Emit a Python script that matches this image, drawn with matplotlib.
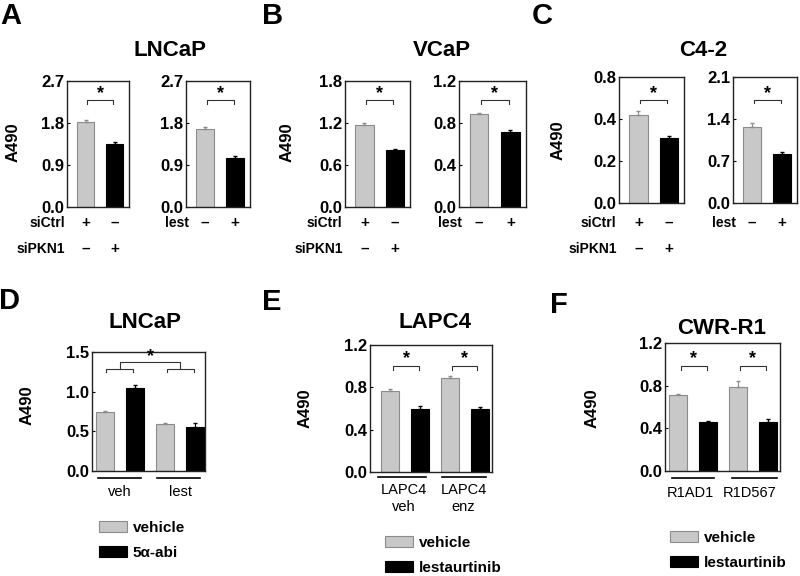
import numpy as np
import matplotlib
matplotlib.use('Agg')
import matplotlib.pyplot as plt

plt.rcParams['font.family'] = ['Liberation Sans', 'DejaVu Sans']

W, H = 800, 576
LIGHT = '#c8c8c8'
LIGHT_EDGE = '#8c8c8c'

# ---- data (A490 values) ----
a1_vals, a1_err = [1.82, 1.35], [0.04, 0.04]
a2_vals, a2_err = [1.68, 1.06], [0.03, 0.03]
b1_vals, b1_err = [1.17, 0.81], [0.03, 0.02]
b2_vals, b2_err = [0.885, 0.71], [0.01, 0.02]
c1_vals, c1_err = [0.42, 0.31], [0.02, 0.01]
c2_vals, c2_err = [1.27, 0.81], [0.06, 0.04]
d_vals, d_err = [0.74, 1.05, 0.59, 0.56], [0.02, 0.04, 0.01, 0.04]
e_vals, e_err = [0.765, 0.60, 0.885, 0.60], [0.02, 0.02, 0.02, 0.01]
f_vals, f_err = [0.71, 0.46, 0.79, 0.455], [0.01, 0.01, 0.05, 0.03]

ticks_a = [0.0, 0.9, 1.8, 2.7]
ticks_b1 = [0.0, 0.6, 1.2, 1.8]
ticks_b2 = [0.0, 0.4, 0.8, 1.2]
ticks_c1 = [0.0, 0.2, 0.4, 0.6]
ticklabels_c1 = ['0.0', '0.2', '0.4', '0.8']
ticks_c2 = [0.0, 0.7, 1.4, 2.1]
ticks_d = [0.0, 0.5, 1.0, 1.5]
ticks_ef = [0.0, 0.4, 0.8, 1.2]

sign_si = [['+', '–'], ['–', '+']]
sign_lest = ['–', '+']
d_groups = ['veh', 'lest']
e_groups = ['LAPC4\nveh', 'LAPC4\nenz']
f_groups = ['R1AD1', 'R1D567']

fig = plt.figure(figsize=(W / 100, H / 100), dpi=100)


def px_axes(l, t, r, b):
    return fig.add_axes([l / W, 1 - b / H, (r - l) / W, (b - t) / H])


def ftext(x, y, s, **kw):
    fig.text(x / W, 1 - y / H, s, **kw)


def style(ax, ticks, labels=None, xlim=(-0.64, 1.5)):
    ax.set_ylim(ticks[0], ticks[-1])
    ax.set_yticks(ticks)
    ax.set_yticklabels(labels if labels else ['%.1f' % t for t in ticks],
                       fontsize=12, fontweight='bold')
    ax.set_xlim(*xlim)
    ax.set_xticks([])
    ax.tick_params(axis='y', direction='in', length=2, pad=2)
    for s in ax.spines.values():
        s.set_color('#222222')
        s.set_linewidth(1.0)


def bars(ax, vals, err):
    n = len(vals)
    x = np.arange(n)
    cols = [LIGHT if i % 2 == 0 else 'black' for i in range(n)]
    edges = [LIGHT_EDGE if i % 2 == 0 else 'black' for i in range(n)]
    h = ax.bar(x, vals, width=0.6, color=cols, edgecolor=edges, linewidth=0.8)
    for i in range(n):
        ax.errorbar(x[i], vals[i], yerr=[[0], [err[i]]], fmt='none',
                    ecolor=edges[i], elinewidth=0.8, capsize=1.5)
    return h


def bracket(ax, x0, x1, y, star=True, dy=0.03, sy=0.06):
    tr = ax.get_xaxis_transform()
    ax.plot([x0, x0, x1, x1], [y - dy, y, y, y - dy], color='#333333',
            lw=0.8, transform=tr, clip_on=False)
    if star:
        ax.text((x0 + x1) / 2, y + sy, '*', ha='center', va='center',
                fontsize=13, fontweight='bold', transform=tr)


def underline(ax, x0, x1, y):
    ax.plot([x0, x1], [y, y], color='black', lw=1.2,
            transform=ax.get_xaxis_transform(), clip_on=False)


# ---- top row: A, B, C ----
top_axes = [
    ((67, 81, 129, 207), a1_vals, a1_err, ticks_a, None, 'si'),
    ((186, 81, 250, 207), a2_vals, a2_err, ticks_a, None, 'lest'),
    ((345, 81, 410, 207), b1_vals, b1_err, ticks_b1, None, 'si'),
    ((459, 81, 526, 207), b2_vals, b2_err, ticks_b2, None, 'lest'),
    ((619, 77, 684, 203), c1_vals, c1_err, ticks_c1, ticklabels_c1, 'si'),
    ((733, 77, 797, 203), c2_vals, c2_err, ticks_c2, None, 'lest'),
]
for box, vals, err, ticks, tl, kind in top_axes:
    ax = px_axes(*box)
    bars(ax, vals, err)
    style(ax, ticks, tl)
    yb = 0.85 if box[1] == 81 else 0.82
    bracket(ax, 0.05, 0.95, yb, sy=0.05)
    tr = ax.get_xaxis_transform()
    hgt = box[3] - box[1]
    y1 = -(223 - box[3]) / hgt
    y2 = -(249 - box[3]) / hgt
    if kind == 'si':
        ax.text(-0.72, y1, 'siCtrl', ha='right', va='center', fontsize=10,
                fontweight='bold', transform=tr)
        ax.text(-0.72, y2, 'siPKN1', ha='right', va='center', fontsize=10,
                fontweight='bold', transform=tr)
        for i in range(2):
            ax.text(i, y1, sign_si[0][i], ha='center', va='center',
                    fontsize=11, fontweight='bold', transform=tr)
            ax.text(i, y2, sign_si[1][i], ha='center', va='center',
                    fontsize=11, fontweight='bold', transform=tr)
    else:
        ax.text(-0.55, y1, 'lest', ha='right', va='center', fontsize=10,
                fontweight='bold', transform=tr)
        for i in range(2):
            ax.text(i, y1, sign_lest[i], ha='center', va='center',
                    fontsize=11, fontweight='bold', transform=tr)

# ---- D ----
axd = px_axes(92, 352, 205, 471)
hd = bars(axd, d_vals, d_err)
style(axd, ticks_d, xlim=(-0.43, 3.33))
bracket(axd, 0.05, 0.95, 0.857, star=False, dy=0.025)
bracket(axd, 2.05, 2.95, 0.857, star=False, dy=0.025)
bracket(axd, 0.5, 2.5, 0.916, star=False, dy=0.059)
axd.text(1.5, 0.965, '*', ha='center', va='center', fontsize=13,
         fontweight='bold', transform=axd.get_xaxis_transform())
underline(axd, -0.23, 1.2, -0.06)
underline(axd, 1.73, 3.17, -0.06)
for i, g in enumerate(d_groups):
    axd.text(0.5 + 2 * i, -0.18, g, ha='center', va='center', fontsize=10.5,
             transform=axd.get_xaxis_transform())

# ---- E ----
axe = px_axes(370, 345, 492, 472)
he = bars(axe, e_vals, e_err)
style(axe, ticks_ef, xlim=(-0.67, 3.4))
bracket(axe, 0.1, 0.97, 0.835)
bracket(axe, 2.07, 2.9, 0.835)
underline(axe, -0.4, 1.2, -0.04)
underline(axe, 1.73, 3.2, -0.04)
for i, g in enumerate(e_groups):
    axe.text(0.45 + 2 * i, -0.09, g, ha='center', va='top', fontsize=10.5,
             linespacing=1.2, transform=axe.get_xaxis_transform())

# ---- F ----
axf = px_axes(665, 343, 780, 471)
hf = bars(axf, f_vals, f_err)
style(axf, ticks_ef, xlim=(-0.43, 3.4))
bracket(axf, 0.1, 0.97, 0.82)
bracket(axf, 2.07, 2.93, 0.82)
underline(axf, -0.2, 1.2, -0.055)
underline(axf, 1.8, 3.3, -0.055)
for i, g in enumerate(f_groups):
    axf.text(0.4 + 2 * i, -0.17, g, ha='center', va='center', fontsize=10.5,
             transform=axf.get_xaxis_transform())

# ---- legends ----
for ax, h, labels, x, y in [(axd, hd, ['vehicle', '5α-abi'], 99, 521),
                            (axe, he, ['vehicle', 'lestaurtinib'], 385, 536),
                            (axf, hf, ['vehicle', 'lestaurtinib'], 670, 531)]:
    ax.legend([h[0], h[1]], labels, loc='upper left',
              bbox_to_anchor=(x / W, 1 - y / H), bbox_transform=fig.transFigure,
              frameon=False, borderpad=0, borderaxespad=0, handlelength=1.8,
              handleheight=0.75, handletextpad=0.4, labelspacing=0.7,
              prop={'size': 11, 'weight': 'bold'})

# ---- titles, letters, y labels ----
for x, y, s in [(170, 50, 'LNCaP'), (442, 50, 'VCaP'), (703, 50, 'C4-2'),
                (145, 323, 'LNCaP'), (435, 323, 'LAPC4'), (722, 328, 'CWR-R1')]:
    ftext(x, y, s, ha='center', va='center', fontsize=16, fontweight='bold')

for x, y, s in [(0, 16, 'A'), (262, 16, 'B'), (532, 16, 'C'),
                (-1, 301, 'D'), (262, 302, 'E'), (550, 305, 'F')]:
    ftext(x, y, s, ha='left', va='center', fontsize=21, fontweight='bold')

for x, y in [(13, 142), (287, 142), (558, 140), (27, 405), (305, 408), (592, 408)]:
    ftext(x, y, 'A490', ha='center', va='center', rotation=90, fontsize=12,
          fontweight='bold')

fig.savefig('out.png', dpi=100)
